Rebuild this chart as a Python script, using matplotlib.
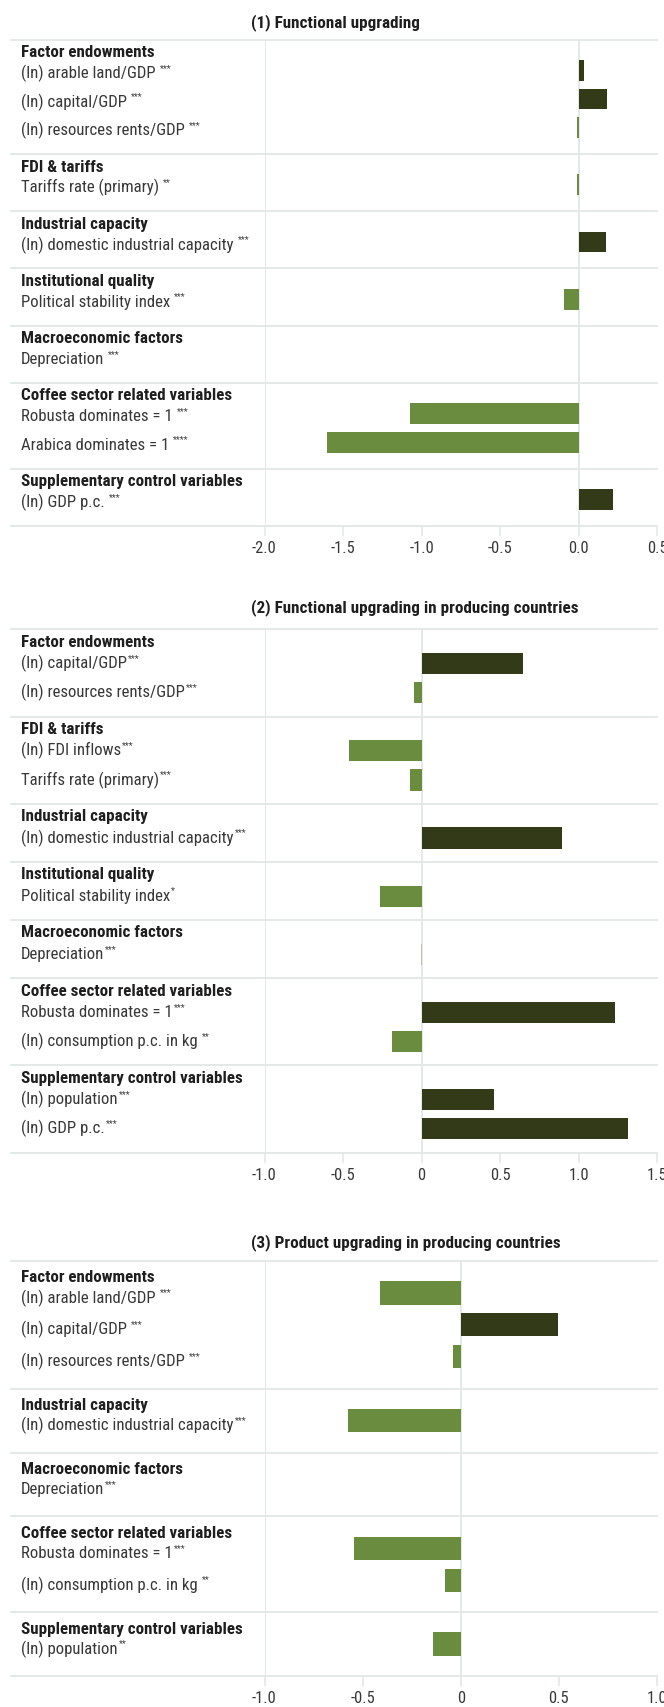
import re
import matplotlib
matplotlib.use("Agg")
import matplotlib.pyplot as plt
from matplotlib import font_manager
from matplotlib.transforms import blended_transform_factory

# ---------------- data ----------------
P1_TITLE = "(1) Functional upgrading"
P1_GROUPS = ["Factor endowments", "FDI & tariffs", "Industrial capacity",
             "Institutional quality", "Macroeconomic factors",
             "Coffee sector related variables", "Supplementary control variables"]
P1_ITEMS = [["(ln) arable land/GDP ***", "(ln) capital/GDP ***", "(ln) resources rents/GDP ***"],
            ["Tariffs rate (primary) **"],
            ["(ln) domestic industrial capacity ***"],
            ["Political stability index ***"],
            ["Depreciation ***"],
            ["Robusta dominates = 1 ***", "Arabica dominates = 1 ****"],
            ["(ln) GDP p.c.  ***"]]
P1_VALUES = [[0.038, 0.18, -0.01], [-0.01], [0.175], [-0.094], [0.003],
             [-1.074, -1.599], [0.22]]
P1_TICKS = [-2.0, -1.5, -1.0, -0.5, 0.0, 0.5]
P1_TICKLABELS = ["-2.0", "-1.5", "-1.0", "-0.5", "0.0", "0.5"]

P2_TITLE = "(2) Functional upgrading in producing countries"
P2_GROUPS = ["Factor endowments", "FDI & tariffs", "Industrial capacity",
             "Institutional quality", "Macroeconomic factors",
             "Coffee sector related variables", "Supplementary control variables"]
P2_ITEMS = [["(ln) capital/GDP***", "(ln) resources rents/GDP***"],
            ["(ln) FDI inflows***", "Tariffs rate (primary)***"],
            ["(ln) domestic industrial capacity***"],
            ["Political stability index*"],
            ["Depreciation***"],
            ["Robusta dominates = 1***", "(ln) consumption p.c. in kg **"],
            ["(ln) population***", "(ln) GDP p.c.***"]]
P2_VALUES = [[0.645, -0.049], [-0.464, -0.074], [0.896], [-0.266], [-0.002],
             [1.232, -0.189], [0.462, 1.317]]
P2_TICKS = [-1.0, -0.5, 0.0, 0.5, 1.0, 1.5]
P2_TICKLABELS = ["-1.0", "-0.5", "0", "0.5", "1.0", "1.5"]

P3_TITLE = "(3) Product upgrading in producing countries"
P3_GROUPS = ["Factor endowments", "Industrial capacity", "Macroeconomic factors",
             "Coffee sector related variables", "Supplementary control variables"]
P3_ITEMS = [["(ln) arable land/GDP ***", "(ln) capital/GDP ***", "(ln) resources rents/GDP ***"],
            ["(ln) domestic industrial capacity***"],
            ["Depreciation***"],
            ["Robusta dominates = 1***", "(ln) consumption p.c. in kg **"],
            ["(ln) population**"]]
P3_VALUES = [[-0.412, 0.498, -0.041], [-0.575], [0.0], [-0.544, -0.081], [-0.142]]
P3_TICKS = [-1.0, -0.5, 0.0, 0.5, 1.0]
P3_TICKLABELS = ["-1.0", "-0.5", "0", "0.5", "1.0"]

# ---------------- style / layout ----------------
W, H, DPI = 664, 1707, 100
DARK = "#323a18"
GREEN = "#698c3e"
NEUTRAL = "#c9c19c"
GRID = "#e3e9e7"
TXT = "#383838"
TXT_BOLD = "#1e1e1e"

LAYOUT = [
    dict(top=39.5, bottom=525.7, title_y=23.0, shift=0.08, head=0.46, label_dy=3.0),
    dict(top=629.3, bottom=1152.7, title_y=607.5, shift=0.18, head=0.44, label_dy=0.0),
    dict(top=1261.0, bottom=1676.0, title_y=1242.7, shift=0.0, head=0.53, label_dy=5.0),
]
AX_LEFT, AX_RIGHT = 264.5, 657.0
LINE_LEFT = 11.0
LABEL_X = 21.0
TITLE_X = 251.0
BAR_H = 0.73

available = {f.name for f in font_manager.fontManager.ttflist}
FONT = "DejaVu Sans"
for cand in ["Liberation Sans Narrow", "Roboto Condensed", "Open Sans Condensed", "Roboto"]:
    if cand in available:
        FONT = cand
        break
plt.rcParams["font.family"] = [FONT, "DejaVu Sans"]

fig = plt.figure(figsize=(W / DPI, H / DPI), dpi=DPI)
fig.patch.set_facecolor("white")
renderer = fig.canvas.get_renderer()


def text_width(s, size, weight="normal"):
    t = fig.text(0, 0, s, fontsize=size, fontweight=weight)
    w = t.get_window_extent(renderer).width
    t.remove()
    return w


LABEL_SIZE = 10 * 135.0 / text_width("(ln) arable land/GDP", 10)
HEAD_SIZE = 10 * 221.0 / text_width("Supplementary control variables", 10, "bold")
TITLE_SIZE = 10 * 326.7 / text_width(P2_TITLE, 10, "bold")
TICK_SIZE = 10 * 24.5 / text_width("-1.0", 10)
STAR_SIZE = LABEL_SIZE * 0.55


def bar_color(v):
    if abs(v) < 0.005:
        return NEUTRAL
    return DARK if v > 0 else GREEN


PANELS = [
    (P1_TITLE, P1_GROUPS, P1_ITEMS, P1_VALUES, P1_TICKS, P1_TICKLABELS),
    (P2_TITLE, P2_GROUPS, P2_ITEMS, P2_VALUES, P2_TICKS, P2_TICKLABELS),
    (P3_TITLE, P3_GROUPS, P3_ITEMS, P3_VALUES, P3_TICKS, P3_TICKLABELS),
]

for (title, groups, items, values, ticks, ticklabels), lay in zip(PANELS, LAYOUT):
    nrows = sum(len(it) + 1 for it in items)
    top, bottom = lay["top"], lay["bottom"]
    row_px = (bottom - top) / nrows
    ldy = lay["label_dy"] / row_px
    ax = fig.add_axes([AX_LEFT / W, 1 - bottom / H, (AX_RIGHT - AX_LEFT) / W, (bottom - top) / H])
    ax.set_xlim(ticks[0], ticks[-1])
    ax.set_ylim(nrows, 0)
    for sp in ax.spines.values():
        sp.set_visible(False)
    ax.set_yticks([])
    ax.set_xticks(ticks)
    ax.set_xticklabels(ticklabels)
    ax.tick_params(axis="x", length=7, width=1.2, color=GRID, pad=4,
                   labelsize=TICK_SIZE, labelcolor=TXT)
    ax.axvline(ticks[0], color=GRID, lw=1.4, zorder=0)
    ax.axvline(0, color=GRID, lw=1.4, zorder=0)

    trans = blended_transform_factory(fig.transFigure, ax.transData)
    fig.text(TITLE_X / W, 1 - lay["title_y"] / H, title, ha="left", va="center",
             fontsize=TITLE_SIZE, fontweight="bold", color=TXT_BOLD)

    start = 0
    boundaries = [0]
    ys, vals = [], []
    for gname, its, vs in zip(groups, items, values):
        ax.text(LABEL_X / W, start + lay["head"], gname, transform=trans, ha="left",
                va="center", fontsize=HEAD_SIZE, fontweight="bold", color=TXT_BOLD)
        for i, (lab, v) in enumerate(zip(its, vs)):
            y = start + 1 + i + lay["shift"]
            ys.append(y)
            vals.append(v)
            m = re.match(r"^(.*?)(\s*)(\*+)$", lab)
            main, space, stars = m.group(1), m.group(2), m.group(3)
            t = ax.text(LABEL_X / W, y + ldy, main, transform=trans, ha="left", va="center",
                        fontsize=LABEL_SIZE, color=TXT)
            bb = t.get_window_extent(renderer)
            gap = 4.0 if space else 1.0
            ycen = (bb.y0 + bb.y1) / 2 + LABEL_SIZE * 0.42
            fig.text((bb.x1 + gap) / W, ycen / H, stars, ha="left", va="center",
                     fontsize=STAR_SIZE, color=TXT)
        start += len(its) + 1
        boundaries.append(start)

    ax.barh(ys, vals, height=BAR_H, color=[bar_color(v) for v in vals], zorder=2)
    for b in boundaries:
        ax.plot([LINE_LEFT / W, AX_RIGHT / W], [b, b], transform=trans, color=GRID,
                lw=1.4, clip_on=False, zorder=1)

fig.savefig("out.png", dpi=DPI, facecolor="white")
